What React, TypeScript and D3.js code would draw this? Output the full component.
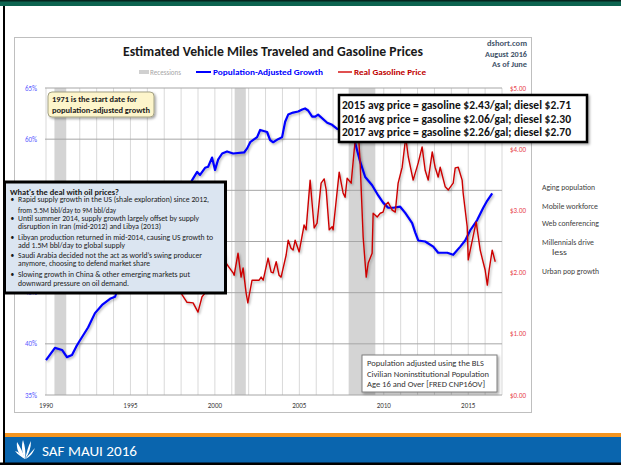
import React from "react";
import * as d3 from "d3";

// recession periods (start, end) as decimal years
const recessions: [number, number][] = [
  [1990.5, 1991.2],
  [2001.17, 2001.83],
  [2007.92, 2009.5],
];

// population-adjusted vehicle miles traveled growth (%)
const popGrowth: [number, number][] = [
  [1990.0, 38.4], [1990.53, 39.6], [1990.95, 39.4], [1991.24, 38.7], [1991.54, 38.9],
  [1991.78, 39.7], [1991.96, 40.2], [1992.49, 41.6], [1992.9, 43.0], [1993.32, 43.8],
  [1993.79, 44.4], [1994.09, 44.6], [1994.21, 45.2], [1994.6, 45.6], [1995.0, 46.3],
  [1995.5, 47.3], [1996.0, 48.4], [1996.5, 49.6], [1997.0, 50.8], [1997.5, 52.2],
  [1998.0, 53.8], [1998.4, 55.0], [1998.65, 56.0], [1998.95, 56.8], [1999.12, 56.5],
  [1999.42, 57.2], [1999.6, 57.3], [1999.83, 58.2], [2000.01, 57.0], [2000.19, 58.0],
  [2000.43, 58.6], [2000.72, 58.8], [2001.08, 58.6], [2001.73, 58.7], [2001.91, 59.1],
  [2002.09, 59.7], [2002.5, 60.2], [2002.68, 60.9], [2003.09, 60.7], [2003.27, 59.9],
  [2003.45, 59.7], [2003.74, 60.0], [2003.98, 60.2], [2004.16, 61.7], [2004.34, 62.4],
  [2004.63, 62.6], [2004.93, 62.7], [2005.17, 62.9], [2005.34, 63.0], [2005.52, 62.8],
  [2005.76, 62.2], [2005.94, 62.2], [2006.11, 62.4], [2006.65, 61.6], [2006.94, 61.4],
  [2007.24, 61.0], [2007.59, 60.9], [2007.89, 60.7], [2008.31, 59.6], [2008.6, 57.8],
  [2008.9, 56.3], [2009.31, 55.5], [2009.67, 54.5], [2009.96, 53.8], [2010.26, 53.3],
  [2010.56, 53.3], [2010.97, 53.4], [2011.27, 52.8], [2011.68, 51.8], [2011.86, 50.9],
  [2012.04, 50.1], [2012.45, 50.0], [2012.93, 49.5], [2013.22, 48.9], [2013.76, 48.9],
  [2014.11, 48.7], [2014.53, 49.5], [2014.82, 50.1], [2015.12, 51.1], [2015.53, 52.1],
  [2015.89, 53.3], [2016.13, 54.0], [2016.42, 54.7],
];

const gasPrice: [number, number][] = [
  [1990.0, 2.05], [1990.4, 1.95], [1990.75, 2.55], [1991.0, 2.4], [1991.3, 2.0],
  [1991.7, 2.05], [1992.0, 1.9], [1992.5, 2.02], [1993.0, 1.95], [1993.5, 1.88],
  [1994.0, 1.76], [1994.5, 1.88], [1995.0, 1.8], [1995.5, 1.92], [1996.0, 1.85],
  [1996.4, 2.05], [1996.9, 2.0], [1997.3, 1.95], [1997.8, 1.85], [1998.06, 1.63],
  [1998.35, 1.51], [1998.71, 1.5], [1999.0, 1.35], [1999.24, 1.6], [1999.42, 1.66],
  [1999.7, 1.9], [2000.0, 2.0], [2000.25, 2.3], [2000.45, 2.45], [2000.66, 2.15],
  [2000.84, 2.08], [2001.08, 1.99], [2001.14, 1.95], [2001.37, 2.31], [2001.55, 1.92],
  [2001.67, 2.07], [2001.85, 1.66], [2001.95, 1.5], [2002.2, 1.87], [2002.32, 1.87],
  [2002.62, 1.87], [2002.74, 1.92], [2002.86, 1.87], [2003.15, 2.23], [2003.33, 2.0],
  [2003.45, 1.99], [2003.63, 2.17], [2003.8, 1.95], [2003.92, 1.92], [2004.22, 2.28],
  [2004.34, 2.52], [2004.51, 2.39], [2004.63, 2.36], [2004.75, 2.52], [2004.99, 2.33],
  [2005.23, 2.69], [2005.28, 2.77], [2005.4, 2.69], [2005.64, 3.5], [2005.88, 2.72],
  [2006.05, 2.8], [2006.29, 3.45], [2006.47, 3.52], [2006.59, 3.34], [2006.77, 2.69],
  [2006.94, 2.74], [2007.0, 2.69], [2007.36, 3.63], [2007.59, 3.29], [2007.71, 3.22],
  [2007.83, 3.53], [2008.07, 3.45], [2008.25, 3.99], [2008.45, 4.5], [2008.6, 3.78],
  [2008.78, 2.57], [2008.96, 1.92], [2009.08, 2.15], [2009.31, 2.31], [2009.37, 2.96],
  [2009.61, 2.9], [2009.79, 2.96], [2009.96, 2.98], [2010.08, 3.09], [2010.26, 3.14],
  [2010.5, 3.01], [2010.68, 2.98], [2010.85, 3.45], [2011.09, 3.71], [2011.3, 4.2],
  [2011.45, 3.88], [2011.74, 3.5], [2012.04, 3.78], [2012.27, 4.04], [2012.45, 3.66],
  [2012.63, 3.5], [2012.87, 3.96], [2013.04, 3.71], [2013.22, 3.55], [2013.34, 3.71],
  [2013.64, 3.39], [2013.82, 3.34], [2014.11, 3.45], [2014.23, 3.7], [2014.41, 3.71],
  [2014.64, 3.5], [2014.7, 3.29], [2014.94, 2.74], [2015.0, 2.2], [2015.24, 2.52],
  [2015.47, 2.82], [2015.71, 2.36], [2015.85, 2.2], [2016.0, 2.04], [2016.13, 1.79],
  [2016.24, 2.04], [2016.42, 2.36], [2016.6, 2.17],
];

const pctTicks = [35, 40, 45, 50, 55, 60, 65];
// 50% and 55% sit under the oil-price box in the original, so their labels are not shown
const pctLabels = [35, 40, 45, 60, 65];
const dollarTicks = [0, 1, 2, 3, 4, 5];
const yearTicks = [1990, 1995, 2000, 2005, 2010, 2015];

const oilNotes: [string, number][] = [
  ["Rapid supply growth in the US (shale exploration) since 2012,", 191],
  ["from 5.5M bbl/day to 9M bbl/day", 98],
  ["Until summer 2014, supply growth largely offset by supply", 181],
  ["disruption in Iran (mid-2012) and Libya (2013)", 143],
  ["Libyan production returned in mid-2014, causing US growth to", 195],
  ["add 1.5M bbl/day to global supply", 107],
  ["Saudi Arabia decided not the act as world\u2019s swing producer", 184],
  ["anymore, choosing to defend market share", 132],
  ["Slowing growth in China & other emerging markets put", 172],
  ["downward pressure on oil demand.", 111],
];
const bulletStarts = [0, 2, 4, 6, 8];

const priceNotes = [
  "2015 avg price = gasoline $2.43/gal; diesel $2.71",
  "2016 avg price = gasoline $2.06/gal; diesel $2.30",
  "2017 avg price = gasoline $2.26/gal; diesel $2.70",
];

const drivers: [string, number][] = [
  ["Aging population", 53],
  ["Mobile workforce", 56],
  ["Web conferencing", 57],
  ["Millennials drive", 52],
  ["Urban pop growth", 57],
];

const FONT = "Carlito, Calibri, Lato, 'Open Sans', sans-serif";

const App = () => {
  const left = 46, right = 502, top = 88, bottom = 395;
  const x = d3.scaleLinear().domain([1990, 2017]).range([left, right]);
  const yPct = d3.scaleLinear().domain([35, 65]).range([bottom, top]);
  const yUsd = d3.scaleLinear().domain([0, 5]).range([bottom, top]);

  const popLine = d3.line<[number, number]>().x((d) => x(d[0])).y((d) => yPct(d[1]));
  const gasLine = d3.line<[number, number]>().x((d) => x(d[0])).y((d) => yUsd(d[1]));

  const years = d3.range(1990, 2018);

  return (
    <svg width={621} height={465} style={{ position: "absolute", left: 0, top: 0 }} fontFamily={FONT}>
      <defs>
        <filter id="sh" x="-10%" y="-20%" width="130%" height="150%">
          <feDropShadow dx="1.5" dy="1.5" stdDeviation="1" floodColor="#000" floodOpacity="0.35" />
        </filter>
        <filter id="lsh" x="-5%" y="-5%" width="110%" height="110%">
          <feDropShadow dx="1.2" dy="1.5" stdDeviation="0.8" floodColor="#000" floodOpacity="0.3" />
        </filter>
      </defs>
      <rect width={621} height={465} fill="#fff" />

      {/* slide frame */}
      <rect x={0} y={0} width={621} height={6} fill="#0d6450" />
      <rect x={0} y={0} width={621} height={1.5} fill="#06241d" />
      <rect x={3} y={6} width={2} height={459} fill="#000" />
      <rect x={5} y={433} width={616} height={4} fill="#f5951f" />
      <rect x={5} y={437} width={616} height={26} fill="#0a65ae" />
      <rect x={0} y={462.5} width={621} height={2.5} fill="#000" />
      <g fill="#fff">
        <path d="M25,459 C19,455 16,449 17,442 C20,447 23,452 25,459 Z" />
        <path d="M25,459 C22,453 21,446 23,440 C25,446 26,452 25,459 Z" />
        <path d="M25,459 C27,452 28,446 31,441 C31,448 29,454 25,459 Z" />
        <path d="M25,459 C29,455 32,451 35,448 C33,453 30,457 25,459 Z" />
        <path d="M25,459 C22,457 18,455 15,451 C19,452 22,455 25,459 Z" />
      </g>
      <text x={42} y={456} fontSize={14} fill="#fff" textLength={95} lengthAdjust="spacingAndGlyphs">
        SAF MAUI 2016
      </text>

      {/* chart frame */}
      <rect x={14.5} y={37.5} width={517} height={375} fill="#fff" stroke="#bfbfbf" />
      <text x={123} y={56} fontSize={14} fontWeight="bold" fill="#1a1a1a" textLength={300} lengthAdjust="spacingAndGlyphs">
        Estimated Vehicle Miles Traveled and Gasoline Prices
      </text>
      <g fontSize={8} fill="#44546a" fontWeight="bold" textAnchor="end">
        <text x={527} y={46} textLength={40} lengthAdjust="spacingAndGlyphs">dshort.com</text>
        <text x={527} y={57} textLength={42} lengthAdjust="spacingAndGlyphs">August 2016</text>
        <text x={527} y={67} textLength={35} lengthAdjust="spacingAndGlyphs">As of June</text>
      </g>

      {/* legend */}
      <rect x={139} y={70} width={10} height={4} fill="#d0d0d0" />
      <text x={150} y={75} fontSize={8} fill="#a6a6a6" textLength={31} lengthAdjust="spacingAndGlyphs">Recessions</text>
      <line x1={196} x2={211} y1={72} y2={72} stroke="#0000ff" strokeWidth={2} />
      <text x={213} y={75} fontSize={8} fontWeight="bold" fill="#0000ff" textLength={110} lengthAdjust="spacingAndGlyphs">
        Population-Adjusted Growth
      </text>
      <line x1={338} x2={352} y1={72} y2={72} stroke="#e05050" strokeWidth={2} />
      <text x={354} y={75} fontSize={8} fontWeight="bold" fill="#c00000" textLength={72} lengthAdjust="spacingAndGlyphs">
        Real Gasoline Price
      </text>

      {/* grid */}
      {years.map((yr) => (
        <line key={yr} x1={x(yr)} x2={x(yr)} y1={top} y2={bottom} stroke="#d9d9d9" />
      ))}
      {recessions.map(([a, b]) => (
        <rect key={a} x={x(a)} y={top} width={x(b) - x(a)} height={bottom - top} fill="#d4d4d4" />
      ))}
      {pctTicks.map((p) => (
        <line key={p} x1={left - 1} x2={right} y1={yPct(p)} y2={yPct(p)} stroke="#a6a6a6" />
      ))}

      {/* axes labels */}
      <g fontSize={7} fill="#5a5aff" textAnchor="end">
        {pctLabels.map((p) => (
          <text key={p} x={37} y={yPct(p) + 2.5}>{p}%</text>
        ))}
      </g>
      <g fontSize={7} fill="#e8454f">
        {dollarTicks.map((d) => (
          <text key={d} x={510} y={yUsd(d) + 2.5}>${d.toFixed(2)}</text>
        ))}
      </g>
      <g fontSize={7} fill="#404040" textAnchor="middle">
        {yearTicks.map((yr) => (
          <text key={yr} x={x(yr)} y={408}>{yr}</text>
        ))}
      </g>

      {/* series */}
      <path d={popLine(popGrowth) ?? ""} fill="none" stroke="#0000ff" strokeWidth={2.2} strokeLinejoin="round" filter="url(#lsh)" />
      <path d={gasLine(gasPrice) ?? ""} fill="none" stroke="#cc0000" strokeWidth={1.4} strokeLinejoin="round" filter="url(#lsh)" />

      {/* 1971 note */}
      <rect x={48} y={92} width={106} height={25} rx={4} fill="#fdf5cb" stroke="#a3a184" filter="url(#sh)" />
      <g fontSize={8} fontWeight="bold" fill="#1a1a1a">
        <text x={52} y={101.5} textLength={85} lengthAdjust="spacingAndGlyphs">1971  is the start date for</text>
        <text x={52} y={112.5} textLength={98} lengthAdjust="spacingAndGlyphs">population-adjusted growth</text>
      </g>

      {/* oil price box */}
      <rect x={4.5} y={182} width={221} height={111} fill="#dbe5f1" stroke="#000" strokeWidth={3} />
      <text x={10} y={194.5} fontSize={8} fontWeight="bold" fill="#1a1a1a" textLength={109} lengthAdjust="spacingAndGlyphs">
        What's the deal with oil prices?
      </text>
      <g fontSize={7.5} fill="#1a1a1a">
        {oilNotes.map(([t, w], i) => {
          const base = [202, 213, 221, 229, 240, 248, 258, 266, 277, 286][i];
          return (
            <g key={i}>
              {bulletStarts.includes(i) && <text x={10.5} y={base}>{"\u2022"}</text>}
              <text x={18} y={base} textLength={w} lengthAdjust="spacingAndGlyphs">{t}</text>
            </g>
          );
        })}
      </g>

      {/* price box */}
      <rect x={339} y={95} width={248} height={47} fill="#fff" stroke="#000" strokeWidth={2.5} filter="url(#sh)" />
      <g fontSize={11.5} fontWeight="bold" fill="#111">
        {priceNotes.map((t, i) => (
          <text key={i} x={342} y={109 + i * 13.5} textLength={229} lengthAdjust="spacingAndGlyphs">{t}</text>
        ))}
      </g>

      {/* population note */}
      <rect x={362} y={355} width={135} height={37} fill="#fff" stroke="#7f7f7f" filter="url(#sh)" />
      <g fontSize={8} fill="#333">
        <text x={367} y={366} textLength={117} lengthAdjust="spacingAndGlyphs">Population adjusted using the BLS</text>
        <text x={367} y={376.5} textLength={122} lengthAdjust="spacingAndGlyphs">Civilian Noninstitutional Population</text>
        <text x={367} y={387} textLength={118} lengthAdjust="spacingAndGlyphs">Age 16 and Over  [FRED CNP16OV]</text>
      </g>

      {/* drivers list */}
      <g fontSize={8} fill="#404040">
        {drivers.map(([t, w], i) => {
          const base = [190, 209, 226, 245, 274][i];
          return <text key={t} x={542} y={base} textLength={w} lengthAdjust="spacingAndGlyphs">{t}</text>;
        })}
        <text x={552} y={255} textLength={15} lengthAdjust="spacingAndGlyphs">less</text>
      </g>
    </svg>
  );
};

export default App;
